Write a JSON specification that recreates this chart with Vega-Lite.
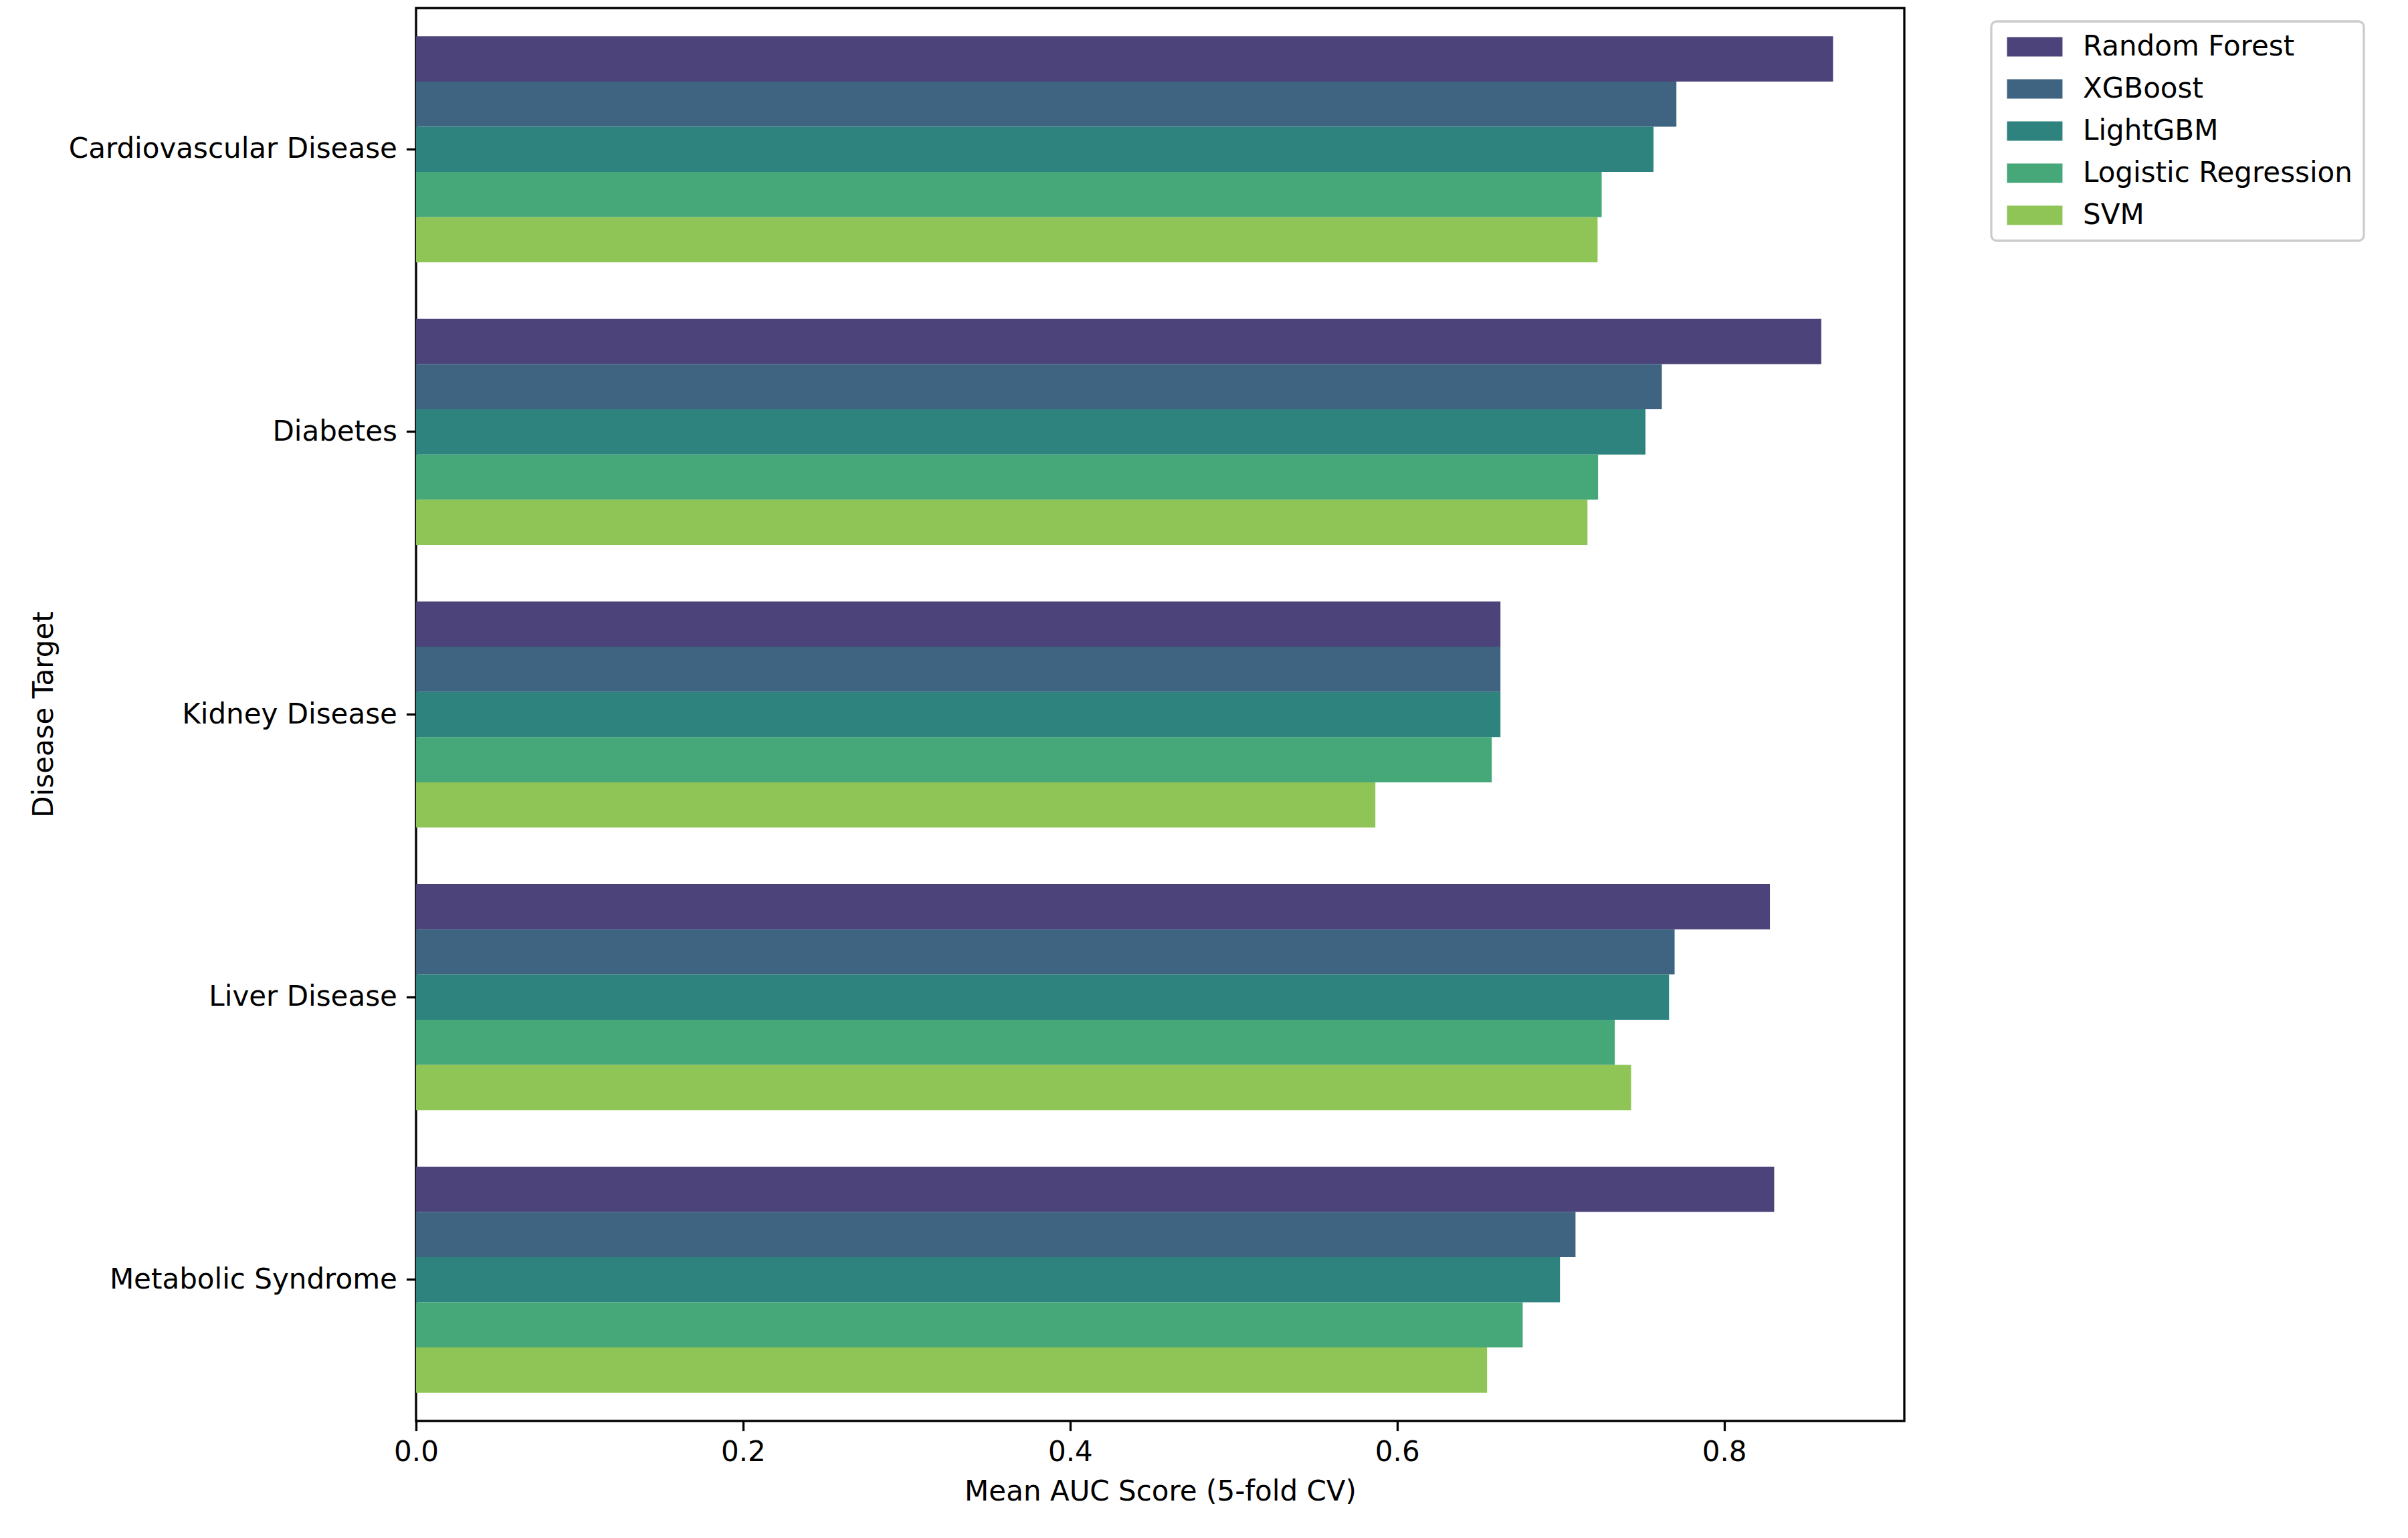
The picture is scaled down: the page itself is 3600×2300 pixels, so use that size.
{
  "$schema": "https://vega.github.io/schema/vega-lite/v6.json",
  "width": 2225,
  "height": 2113,
  "autosize": {"type": "none"},
  "padding": {"left": 622, "top": 12, "right": 753, "bottom": 175},
  "background": "white",
  "data": {
    "values": [
      {"disease": "Cardiovascular Disease", "model": "Random Forest", "auc": 0.8666},
      {"disease": "Cardiovascular Disease", "model": "XGBoost", "auc": 0.7708},
      {"disease": "Cardiovascular Disease", "model": "LightGBM", "auc": 0.7568},
      {"disease": "Cardiovascular Disease", "model": "Logistic Regression", "auc": 0.7251},
      {"disease": "Cardiovascular Disease", "model": "SVM", "auc": 0.7226},
      {"disease": "Diabetes", "model": "Random Forest", "auc": 0.8594},
      {"disease": "Diabetes", "model": "XGBoost", "auc": 0.7619},
      {"disease": "Diabetes", "model": "LightGBM", "auc": 0.7519},
      {"disease": "Diabetes", "model": "Logistic Regression", "auc": 0.7229},
      {"disease": "Diabetes", "model": "SVM", "auc": 0.7164},
      {"disease": "Kidney Disease", "model": "Random Forest", "auc": 0.6632},
      {"disease": "Kidney Disease", "model": "XGBoost", "auc": 0.6632},
      {"disease": "Kidney Disease", "model": "LightGBM", "auc": 0.6632},
      {"disease": "Kidney Disease", "model": "Logistic Regression", "auc": 0.6579},
      {"disease": "Kidney Disease", "model": "SVM", "auc": 0.5867},
      {"disease": "Liver Disease", "model": "Random Forest", "auc": 0.8280},
      {"disease": "Liver Disease", "model": "XGBoost", "auc": 0.7697},
      {"disease": "Liver Disease", "model": "LightGBM", "auc": 0.7663},
      {"disease": "Liver Disease", "model": "Logistic Regression", "auc": 0.7331},
      {"disease": "Liver Disease", "model": "SVM", "auc": 0.7431},
      {"disease": "Metabolic Syndrome", "model": "Random Forest", "auc": 0.8306},
      {"disease": "Metabolic Syndrome", "model": "XGBoost", "auc": 0.7091},
      {"disease": "Metabolic Syndrome", "model": "LightGBM", "auc": 0.6996},
      {"disease": "Metabolic Syndrome", "model": "Logistic Regression", "auc": 0.6768},
      {"disease": "Metabolic Syndrome", "model": "SVM", "auc": 0.6550}
    ]
  },
  "mark": {"type": "bar", "stroke": null},
  "encoding": {
    "y": {
      "field": "disease",
      "type": "nominal",
      "sort": ["Cardiovascular Disease", "Diabetes", "Kidney Disease", "Liver Disease", "Metabolic Syndrome"],
      "scale": {"paddingInner": 0.2, "paddingOuter": 0.1},
      "axis": {
        "title": "Disease Target",
        "titleX": -535,
        "titleY": 1056,
        "titleAngle": -90,
        "titleBaseline": "bottom",
        "titleAlign": "center",
        "labelPadding": 14,
        "labelLimit": 1000,
        "tickSize": 14.6
      }
    },
    "yOffset": {
      "field": "model",
      "type": "nominal",
      "sort": ["Random Forest", "XGBoost", "LightGBM", "Logistic Regression", "SVM"],
      "scale": {"paddingInner": 0, "paddingOuter": 0}
    },
    "x": {
      "field": "auc",
      "type": "quantitative",
      "scale": {"domain": [0, 0.9102], "nice": false, "zero": true},
      "axis": {
        "title": "Mean AUC Score (5-fold CV)",
        "values": [0, 0.2, 0.4, 0.6, 0.8],
        "format": ".1f",
        "grid": false,
        "labelFlush": false,
        "titlePadding": 18,
        "labelPadding": 12,
        "tickSize": 14.6
      }
    },
    "color": {
      "field": "model",
      "type": "nominal",
      "sort": ["Random Forest", "XGBoost", "LightGBM", "Logistic Regression", "SVM"],
      "scale": {
        "domain": ["Random Forest", "XGBoost", "LightGBM", "Logistic Regression", "SVM"],
        "range": ["#4b4379", "#3e6481", "#2e837e", "#46a778", "#8fc457"]
      },
      "legend": {
        "title": null,
        "orient": "none",
        "legendX": 2355,
        "legendY": 20,
        "symbolType": "M-1,-1L4.72,-1L4.72,1L-1,1Z",
        "symbolSize": 841,
        "symbolStrokeWidth": 0,
        "labelOffset": 78,
        "labelFontSize": 42,
        "labelFont": "DejaVu Sans",
        "labelColor": "black",
        "labelLimit": 1000,
        "rowPadding": 21,
        "padding": 17,
        "fillColor": "white",
        "strokeColor": "#cccccc",
        "cornerRadius": 8
      }
    }
  },
  "config": {
    "font": "DejaVu Sans",
    "view": {"stroke": "black", "strokeWidth": 3.3},
    "axis": {
      "labelFont": "DejaVu Sans",
      "labelFontSize": 42,
      "labelColor": "black",
      "titleFont": "DejaVu Sans",
      "titleFontSize": 42,
      "titleFontWeight": "normal",
      "titleColor": "black",
      "tickColor": "black",
      "tickWidth": 3.3,
      "domain": false,
      "grid": false
    },
    "legend": {"strokeWidth": 3.3}
  }
}
